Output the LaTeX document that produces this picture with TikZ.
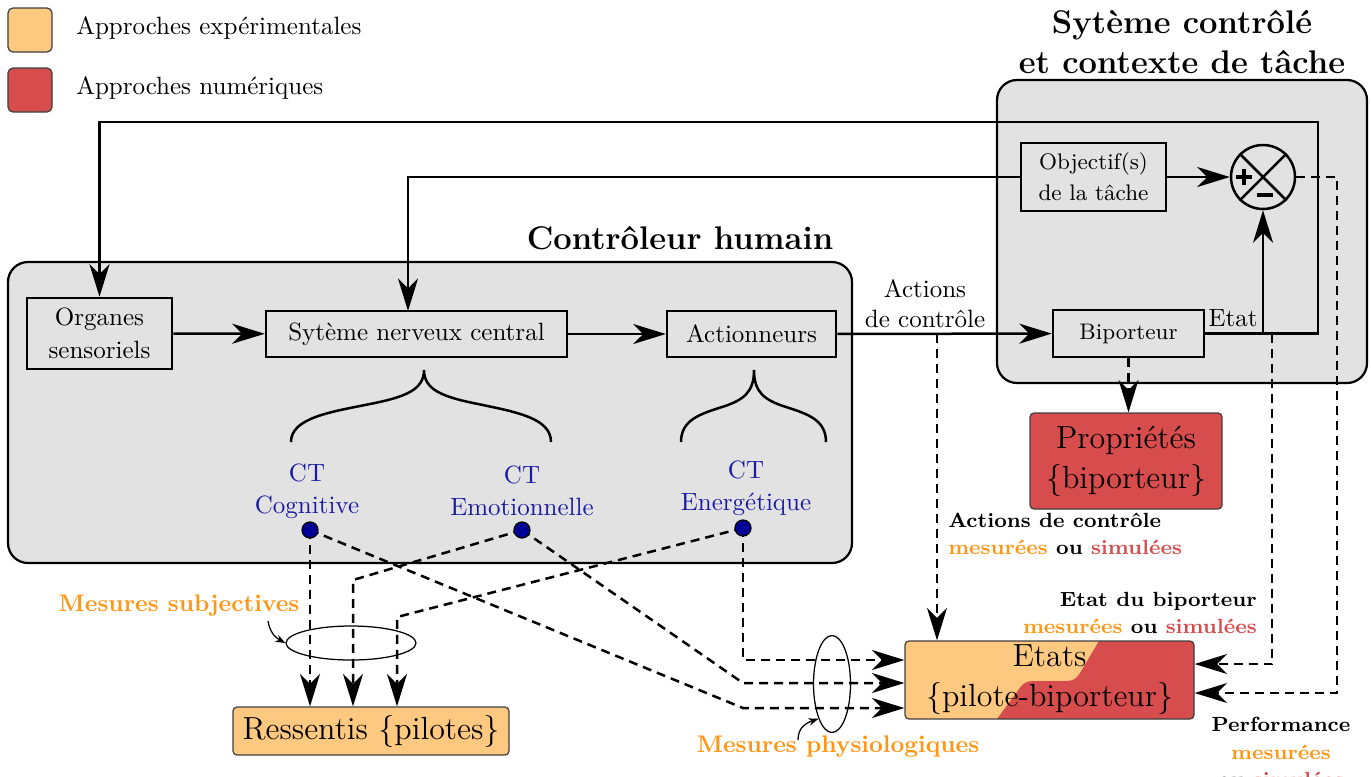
\documentclass[tikz,border=0pt]{standalone}
\usetikzlibrary{arrows.meta,shapes.geometric,calc}
\definecolor{lgray}{RGB}{226,226,226}
\definecolor{expo}{RGB}{253,200,128}
\definecolor{numr}{RGB}{215,76,76}
\definecolor{morange}{RGB}{255,150,20}
\definecolor{ctblue}{RGB}{25,25,165}
\definecolor{dotblue}{RGB}{0,0,150}
\newcommand{\mesu}{\textcolor{morange}{mesurées}}
\newcommand{\simu}{\textcolor{numr}{simulées}}
\begin{document}
\begin{tikzpicture}[x=0.4pt,y=-0.4pt,
  every node/.style={font=\fontsize{10}{12.5}\selectfont},
  arr/.style={-{Stealth[length=13pt,width=8pt,inset=4pt]}},
  sml/.style={-{Stealth[length=4pt,width=3pt]}, line width=0.5pt},
  dsh/.style={dash pattern=on 3.6pt off 2.4pt},
  grayb/.style={fill=lgray, draw=black, line width=0.9pt, rounded corners=8pt},
  blk/.style={draw, line width=1pt, align=center, inner sep=0pt},
  colb/.style={draw=black!75, line width=0.5pt, rounded corners=1.6pt, align=center, inner sep=0pt, font=\fontsize{12.8}{16}\selectfont},
  ttl/.style={font=\fontsize{13.1}{16}\selectfont\bfseries, align=center},
  ct/.style={text=ctblue, align=center, font=\fontsize{10}{12.8}\selectfont},
  ctdot/.style={circle, fill=dotblue, draw=black, line width=0.5pt, minimum size=6.4pt, inner sep=0pt},
  lbl/.style={font=\fontsize{8.2}{11}\selectfont\bfseries, inner sep=0pt},
  mlbl/.style={font=\fontsize{9.6}{12}\selectfont\bfseries, text=morange},
  legb/.style={draw=black!75, line width=0.5pt, rounded corners=2pt, minimum size=17.6pt, inner sep=0pt},
  line width=1pt
]
\useasboundingbox (0,0) rectangle (1371,776);

% legend
\node[legb, fill=expo] (lg1) at (30,30) {};
\node[anchor=west, inner sep=0pt] (lt1) at (75,28) {Approches expérimentales};
\node[legb, fill=numr] (lg2) at (30,90) {};
\node[anchor=west, inner sep=0pt] (lt2) at (75,88) {Approches numériques};

% gray containers
\draw[grayb] (8,262) rectangle (852,563);
\draw[grayb] (997,80) rectangle (1367,383);

\node[ttl] (t1) at (680,238) {Contrôleur humain};
\node[ttl] (t2) at (1182,42) {Sytème contrôlé\\et contexte de tâche};

% blocks
\node[blk, minimum width=58pt, minimum height=28.4pt, font=\fontsize{10}{13.2}\selectfont] (org) at (99.5,333.5) {Organes\\sensoriels};
\node[blk, minimum width=120.4pt, minimum height=18.4pt] (snc) at (416.5,334) {Sytème nerveux central};
\node[blk, minimum width=67.6pt, minimum height=18.4pt] (act) at (751.5,334) {Actionneurs};
\node[blk, minimum width=58pt, minimum height=27.2pt, font=\fontsize{9}{12.4}\selectfont] (obj) at (1093.5,177) {Objectif(s)\\de la tâche};
\node[blk, minimum width=60.4pt, minimum height=18.8pt, font=\small] (bip) at (1128.5,333.5) {Biporteur};
\node[circle, draw, line width=1pt, minimum size=25.6pt, inner sep=0pt] (sum) at (1263,177) {};
\draw (sum.north west) -- (sum.south east);
\draw (sum.north east) -- (sum.south west);
\draw[line width=1.6pt] (1236,177) -- (1252,177) (1244,169) -- (1244,185);
\draw[line width=1.6pt] (1257,195) -- (1273,195);

\node[colb, fill=numr, minimum width=76.8pt, minimum height=38.4pt] (prop) at (1126,461) {Propriétés\\\{biporteur\}};
\node[colb, fill=expo, minimum width=110.4pt, minimum height=19.2pt] (ress) at (371,731) {Ressentis \{pilotes\}};

% Etats box background
\fill[expo, rounded corners=1.6pt] (905,641) rectangle (1194,719);
\begin{scope}
\clip[rounded corners=1.6pt] (905,641) rectangle (1194,719);
\fill[numr] (1099,641) -- (1080,673) .. controls (1076,679) and (1073,681) .. (1066,681) -- (1033,681) .. controls (1027,681) and (1023,683) .. (1019,689) -- (997,719) -- (1200,719) -- (1200,635) -- (1103,635) -- cycle;
\end{scope}
\node[colb, minimum width=115.6pt, minimum height=31.2pt] (etats) at (1049.5,680) {Etats\\\{pilote-biporteur\}};

% braces
\draw (291,442) .. controls (291,418) and (330,412) .. (370,404) .. controls (405,397) and (424,390) .. (424,370)
      .. controls (424,390) and (443,397) .. (478,404) .. controls (516,412) and (551,418) .. (551,442);
\draw (681,442) .. controls (681,420) and (700,414) .. (722,407) .. controls (744,400) and (754,392) .. (754,370)
      .. controls (754,392) and (764,400) .. (786,407) .. controls (808,414) and (826,420) .. (826,442);

% CT labels and dots
\node[ct] (lcog) at (307,491) {CT\\Cognitive};
\node[ct] (lemo) at (522,491) {CT\\Emotionnelle};
\node[ct] (lene) at (746,488) {CT\\Energétique};

\coordinate (pcog) at (310,530);
\coordinate (pemo) at (522,530);
\coordinate (pene) at (743,528);

% solid connectors
\draw[arr] (org) -- (snc);
\draw[arr] (snc) -- (act);
\draw[arr] (act) -- (bip);
\coordinate (fbR) at (1318,122);
\draw[arr] (bip.east) -| (fbR) -| (org.north);
\coordinate (sncin) at (408,311);
\draw[arr] (obj.west) -| (sncin);
\draw[arr] (obj) -- (sum);
\coordinate (br) at (sum.south |- bip.east);
\draw[arr] (br) -- (sum.south);
\node (etat) at (1233,318) {Etat};
\node[align=center, font=\fontsize{10}{12}\selectfont] (acl) at (925,304) {Actions\\de contrôle};

% dashed from system
\coordinate (ac) at (937,334);
\draw[dsh,arr] (ac) -- (ac |- etats.north);
\draw[dsh,arr] (bip.south) -- (bip.south |- prop.north);
\coordinate (pf) at (1337,693);
\draw[dsh,arr] (sum.east) -| (pf) -- (pf -| etats.east);
\coordinate (es) at (1272,333.5);
\coordinate (esd) at (1272,664);
\draw[dsh,arr] (es) -- (esd) -- (esd -| etats.east);

% dashed from CT dots
\coordinate (c1) at (743,708);
\coordinate (c2) at (743,683);
\coordinate (c3) at (743,660);
\coordinate (c4) at (353,580);
\coordinate (c5) at (397,617);
\draw[dsh,arr] (pcog) -- (pcog |- ress.north);
\draw[dsh,arr] (pcog) -- (c1) -- (c1 -| etats.west);
\draw[dsh,arr] (pemo) -- (c4) -- (c4 |- ress.north);
\draw[dsh,arr] (pemo) -- (c2) -- (c2 -| etats.west);
\draw[dsh,arr] (pene) -- (c3) -- (c3 -| etats.west);
\draw[dsh,arr] (pene) -- (c5) -- (c5 |- ress.north);

\node[ctdot] (dcog) at (pcog) {};
\node[ctdot] (demo) at (pemo) {};
\node[ctdot] (dene) at (pene) {};

% measurement ellipses
\node[ellipse, draw, line width=0.5pt, minimum width=52pt, minimum height=13.6pt, inner sep=0pt] (esub) at (351,643) {};
\node[ellipse, draw, line width=0.5pt, minimum width=14.8pt, minimum height=38.8pt, inner sep=0pt] (ephy) at (832,684) {};
\node[mlbl] (msub) at (179,606) {Mesures subjectives};
\node[mlbl] (mphy) at (838,747) {Mesures physiologiques};
\coordinate (sa) at (268,621);
\coordinate (pa) at (798,740);
\draw[sml] (sa) .. controls (270,633) and (276,638) .. (esub.west);
\draw[sml] (pa) .. controls (798,730) and (803,724) .. (ephy.south west);

% labels of measured / simulated
\node[lbl, anchor=west, align=left] (la1) at (947,534) {Actions de contrôle\\\mesu{} ou \simu};
\node[lbl, anchor=east, align=right] (la2) at (1258,613) {Etat du biporteur\\\mesu{} ou \simu};
\node[lbl, align=center, anchor=north] (la3) at (1281,716) {Performance\\\mesu\\ou \simu};
\end{tikzpicture}
\end{document}
